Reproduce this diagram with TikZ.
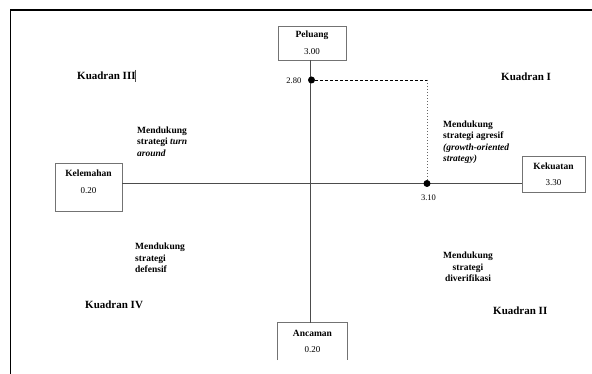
\documentclass[tikz,border=0pt]{standalone}
\usepackage{fontspec}
\setmainfont{Liberation Serif}
\begin{document}
\begin{tikzpicture}[x=1pt,y=-1pt,
  boxtitle/.style={font=\bfseries\fontsize{9.5}{11}\selectfont, inner sep=0pt},
  boxnum/.style={font=\fontsize{9}{11}\selectfont, inner sep=0pt},
  quad/.style={font=\bfseries\fontsize{11}{12}\selectfont, inner sep=0pt, anchor=west},
  strat/.style={font=\bfseries\fontsize{9.5}{11.3}\selectfont, inner sep=0pt, align=left, anchor=west},
  axis/.style={draw=black!70, line width=0.7pt},
  dot/.style={circle, fill=black, inner sep=0pt, minimum size=7pt},
  small/.style={font=\fontsize{8.5}{10}\selectfont, inner sep=0pt}]
\useasboundingbox (0,0) rectangle (592,374);
% frame
\draw[line width=1.4pt] (10.5,380) -- (10.5,10) -- (600,10);
% boxes
\node[draw=black!55, line width=0.8pt, minimum width=68pt, minimum height=34pt, inner sep=0pt] (pel) at (312,43) {};
\node[boxtitle] (pelt) at (312,35) {Peluang};
\node[boxnum] (peln) at (312,52) {3.00};
\node[draw=black!55, line width=0.8pt, minimum width=67pt, minimum height=48pt, inner sep=0pt] (kel) at (88.5,187) {};
\node[boxtitle] (kelt) at (88.5,173.5) {Kelemahan};
\node[boxnum] (keln) at (88.5,191) {0.20};
\node[draw=black!55, line width=0.8pt, minimum width=63pt, minimum height=36pt, inner sep=0pt] (kek) at (553.5,174) {};
\node[boxtitle] (kekt) at (553.5,166) {Kekuatan};
\node[boxnum] (kekn) at (553.5,183) {3.30};
\node[minimum width=69pt, minimum height=37pt, inner sep=0pt] (anc) at (312.5,341.5) {};
\draw[black!55, line width=0.8pt] (anc.south west) -- (anc.north west) -- (anc.north east) -- (anc.south east);
\node[boxtitle] (anct) at (312.5,333) {Ancaman};
\node[boxnum] (ancn) at (312.5,350) {0.20};
% axes
\coordinate (vtop) at (310.5,60);
\coordinate (vbot) at (310.5,323);
\draw[axis] (vtop) -- (vbot);
\coordinate (hl) at (122,183);
\coordinate (hr) at (522,183);
\draw[axis] (hl) -- (hr);
% points
\node[dot] (p1) at (311.5,80) {};
\node[dot] (p2) at (427,183.5) {};
\coordinate (corner) at (427,80);
\draw[black, line width=0.9pt, dash pattern=on 3pt off 2pt] (p1) -- (corner);
\draw[black!60, line width=0.8pt, dash pattern=on 1.5pt off 1.5pt] (corner) -- (p2);
\node[small, anchor=east] (l280) at (301.5,80.5) {2.80};
\node[small] (l310) at (428.5,198) {3.10};
% quadrant labels
\node[quad] (q3) at (77,76) {Kuadran III};
\draw[black!70, line width=0.5pt] (135.5,70) -- (135.5,82);
\node[quad] (q1) at (501,77) {Kuadran I};
\node[quad] (q4) at (85,305) {Kuadran IV};
\node[quad] (q2) at (493,311) {Kuadran II};
% strategies
\node[strat] (s3) at (137,141.7) {Mendukung\\strategi \textit{turn}\\\textit{around}};
\node[strat] (s1) at (443,142.3) {Mendukung\\strategi agresif\\\textit{(growth-oriented}\\\textit{strategy)}};
\node[strat] (s4) at (135,258) {Mendukung\\strategi\\defensif};
\node[strat, align=center, anchor=center] (s2) at (468,266.8) {Mendukung\\strategi\\diverifikasi};
\end{tikzpicture}
\end{document}
